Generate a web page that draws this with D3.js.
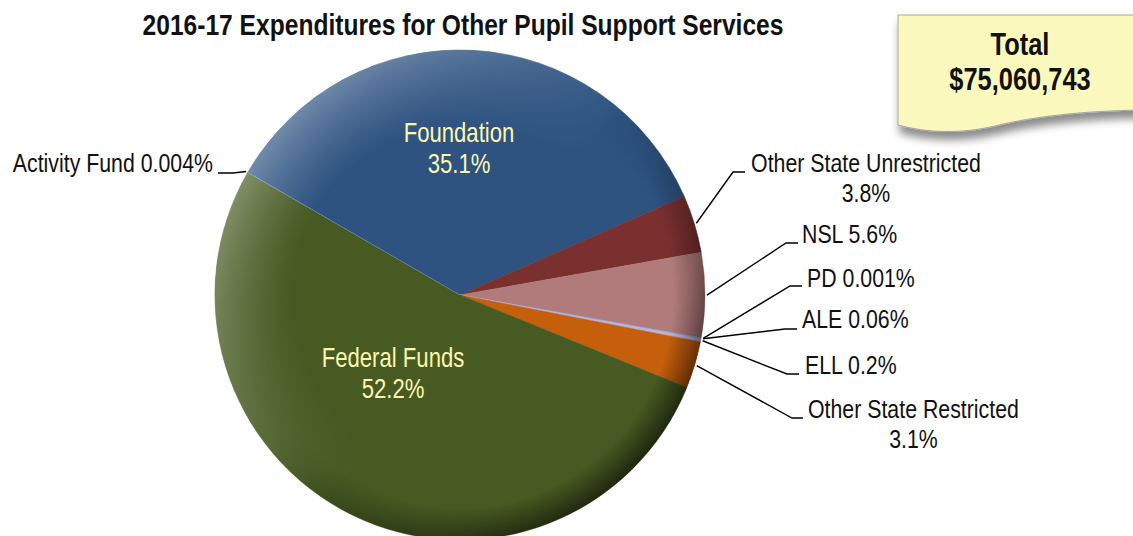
<!DOCTYPE html>
<html>
<head>
<meta charset="utf-8">
<script src="https://cdn.jsdelivr.net/npm/d3@7"></script>
<style>
  body { margin: 0; background: #fff; }
  svg { display: block; }
  text { font-family: "Liberation Sans", Arial, sans-serif; }
</style>
</head>
<body>
<div id="chart"></div>
<script>
const w = 1133,
      h = 536;

// slices, clockwise from the Activity Fund edge
const categories = ["Foundation", "Other State Unrestricted", "NSL", "PD", "ALE", "ELL",
                    "Other State Restricted", "Federal Funds", "Activity Fund"];
const shares = [35.1, 3.8, 5.6, 0.001, 0.06, 0.2, 3.1, 52.2, 0.004];
const shareLabels = ["35.1%", "3.8%", "5.6%", "0.001%", "0.06%", "0.2%", "3.1%", "52.2%", "0.004%"];
const colors = ["#2e5381", "#7b3030", "#b27b7b", "#9aa6d2", "#9aa6d2", "#b7b7dc",
                "#c65f0b", "#465a22", "#6b86b8"];
const total = "$75,060,743";

const cx = 460, cy = 295, r = 245;
const narrow = 0.82;   // squeeze Liberation Sans to look like Arial Narrow

const svg = d3.select("#chart")
  .append("svg")
  .attr("width", w)
  .attr("height", h);

const defs = svg.append("defs");

function ring(id, color, from, op) {
  const gr = defs.append("radialGradient").attr("id", id)
    .attr("gradientUnits", "userSpaceOnUse")
    .attr("cx", cx).attr("cy", cy).attr("r", r);
  gr.append("stop").attr("offset", "0%").attr("stop-color", color).attr("stop-opacity", 0);
  gr.append("stop").attr("offset", from + "%").attr("stop-color", color).attr("stop-opacity", 0);
  gr.append("stop").attr("offset", "100%").attr("stop-color", color).attr("stop-opacity", op);
}
ring("lightRing", "#fff", 68, 0.32);
ring("darkRing", "#000", 87, 0.6);

function sideMask(id, x1, y1, x2, y2) {
  const lg = defs.append("linearGradient").attr("id", id + "G")
    .attr("gradientUnits", "userSpaceOnUse")
    .attr("x1", x1).attr("y1", y1).attr("x2", x2).attr("y2", y2);
  lg.append("stop").attr("offset", "0%").attr("stop-color", "#fff");
  lg.append("stop").attr("offset", "55%").attr("stop-color", "#000");
  defs.append("mask").attr("id", id)
    .attr("maskUnits", "userSpaceOnUse")
    .attr("x", 0).attr("y", 0).attr("width", w).attr("height", h)
    .append("rect").attr("width", w).attr("height", h).style("fill", "url(#" + id + "G)");
}
sideMask("upLeft", cx - 0.8 * r, cy - 0.6 * r, cx + 0.8 * r, cy + 0.6 * r);
sideMask("downRight", cx + 0.75 * r, cy + 0.75 * r, cx - 0.75 * r, cy - 0.75 * r);

const shadow = defs.append("filter").attr("id", "boxShadow")
  .attr("x", "-10%").attr("y", "-10%").attr("width", "130%").attr("height", "150%");
shadow.append("feDropShadow")
  .attr("dx", 2).attr("dy", 8).attr("stdDeviation", 4)
  .attr("flood-color", "#000").attr("flood-opacity", 0.45);

function label(parent, x, y, str, size, anchor, fill, bold) {
  return parent.append("text")
    .attr("transform", "translate(" + x + "," + y + ") scale(" + narrow + ",1)")
    .attr("text-anchor", anchor)
    .style("font-size", size + "px")
    .style("font-weight", bold ? "bold" : "normal")
    .style("fill", fill)
    .text(str);
}

// title
label(svg, 463, 35, "2016-17 Expenditures for Other Pupil Support Services", 30, "middle", "#111", true);

const pie = d3.pie()
  .sort(null)
  .value(d => d)
  .startAngle(-60 * Math.PI / 180)
  .endAngle(300 * Math.PI / 180);

const arcs = pie(shares);
const arc = d3.arc().innerRadius(0).outerRadius(r);

const g = svg.append("g")
  .attr("transform", "translate(" + cx + "," + cy + ")");

g.selectAll("path.slice")
  .data(arcs)
  .enter()
  .append("path")
  .attr("class", "slice")
  .attr("d", arc)
  .style("fill", (d, i) => colors[i])
  .style("stroke", (d, i) => colors[i])
  .style("stroke-width", 0.5);

svg.append("circle")
  .attr("cx", cx).attr("cy", cy).attr("r", r)
  .style("fill", "url(#lightRing)")
  .attr("mask", "url(#upLeft)");
svg.append("circle")
  .attr("cx", cx).attr("cy", cy).attr("r", r)
  .style("fill", "url(#darkRing)")
  .attr("mask", "url(#downRight)");

// labels inside the two big slices
const inner = [
  {i: 0, x: 459, y: 142},
  {i: 7, x: 393, y: 367}
];
inner.forEach(p => {
  label(svg, p.x, p.y, categories[p.i], 27, "middle", "#fbf7b0");
  label(svg, p.x, p.y + 31, shareLabels[p.i], 27, "middle", "#fbf7b0");
});

// outside labels with leader lines: pie edge -> elbow -> short tail
const outer = [
  {i: 8, elbow: [233, 173], tail: [218, 173], anchor: "end", tx: 213, ty: 172, two: false},
  {i: 1, elbow: [733, 172], tail: [745, 172], anchor: "middle", tx: 866, ty: 172, two: true},
  {i: 2, elbow: [786, 243], tail: [798, 243], anchor: "start", tx: 802, ty: 243, two: false},
  {i: 3, elbow: [790, 286], tail: [802, 286], anchor: "start", tx: 807, ty: 287, two: false},
  {i: 4, elbow: [785, 329], tail: [797, 329], anchor: "start", tx: 802, ty: 328, two: false},
  {i: 5, elbow: [787, 374], tail: [799, 374], anchor: "start", tx: 805, ty: 374, two: false},
  {i: 6, elbow: [792, 418], tail: [803, 418], anchor: "start", tx: 808, ty: 418, two: true}
];

const line = d3.line();

outer.forEach(p => {
  const a = arcs[p.i];
  const mid = (a.startAngle + a.endAngle) / 2;
  const edge = [cx + (r + 2) * Math.sin(mid), cy - (r + 2) * Math.cos(mid)];
  svg.append("path")
    .attr("d", line([edge, p.elbow, p.tail]))
    .style("fill", "none")
    .style("stroke", "#000")
    .style("stroke-width", 1.4);

  if (p.two) {
    const t = label(svg, p.tx, p.ty, categories[p.i], 26, p.anchor, "#111");
    let mx = p.tx;
    if (p.anchor === "start") mx = p.tx + t.node().getBBox().width * narrow / 2;
    label(svg, mx, p.ty + 30, shareLabels[p.i], 26, "middle", "#111");
  } else {
    label(svg, p.tx, p.ty, categories[p.i] + " " + shareLabels[p.i], 26, p.anchor, "#111");
  }
});

// total callout
const box = svg.append("g");
box.append("path")
  .attr("d", "M898,15 L1140,15 L1140,110 C1085,111 1035,116 995,126 C960,134 928,133 898,125 Z")
  .style("fill", "#fbf8bd")
  .style("stroke", "#a6a6a6")
  .style("stroke-width", 1)
  .attr("filter", "url(#boxShadow)");
label(box, 1020, 55, "Total", 31, "middle", "#111", true);
label(box, 1020, 90, total, 31, "middle", "#111", true);
</script>
</body>
</html>
